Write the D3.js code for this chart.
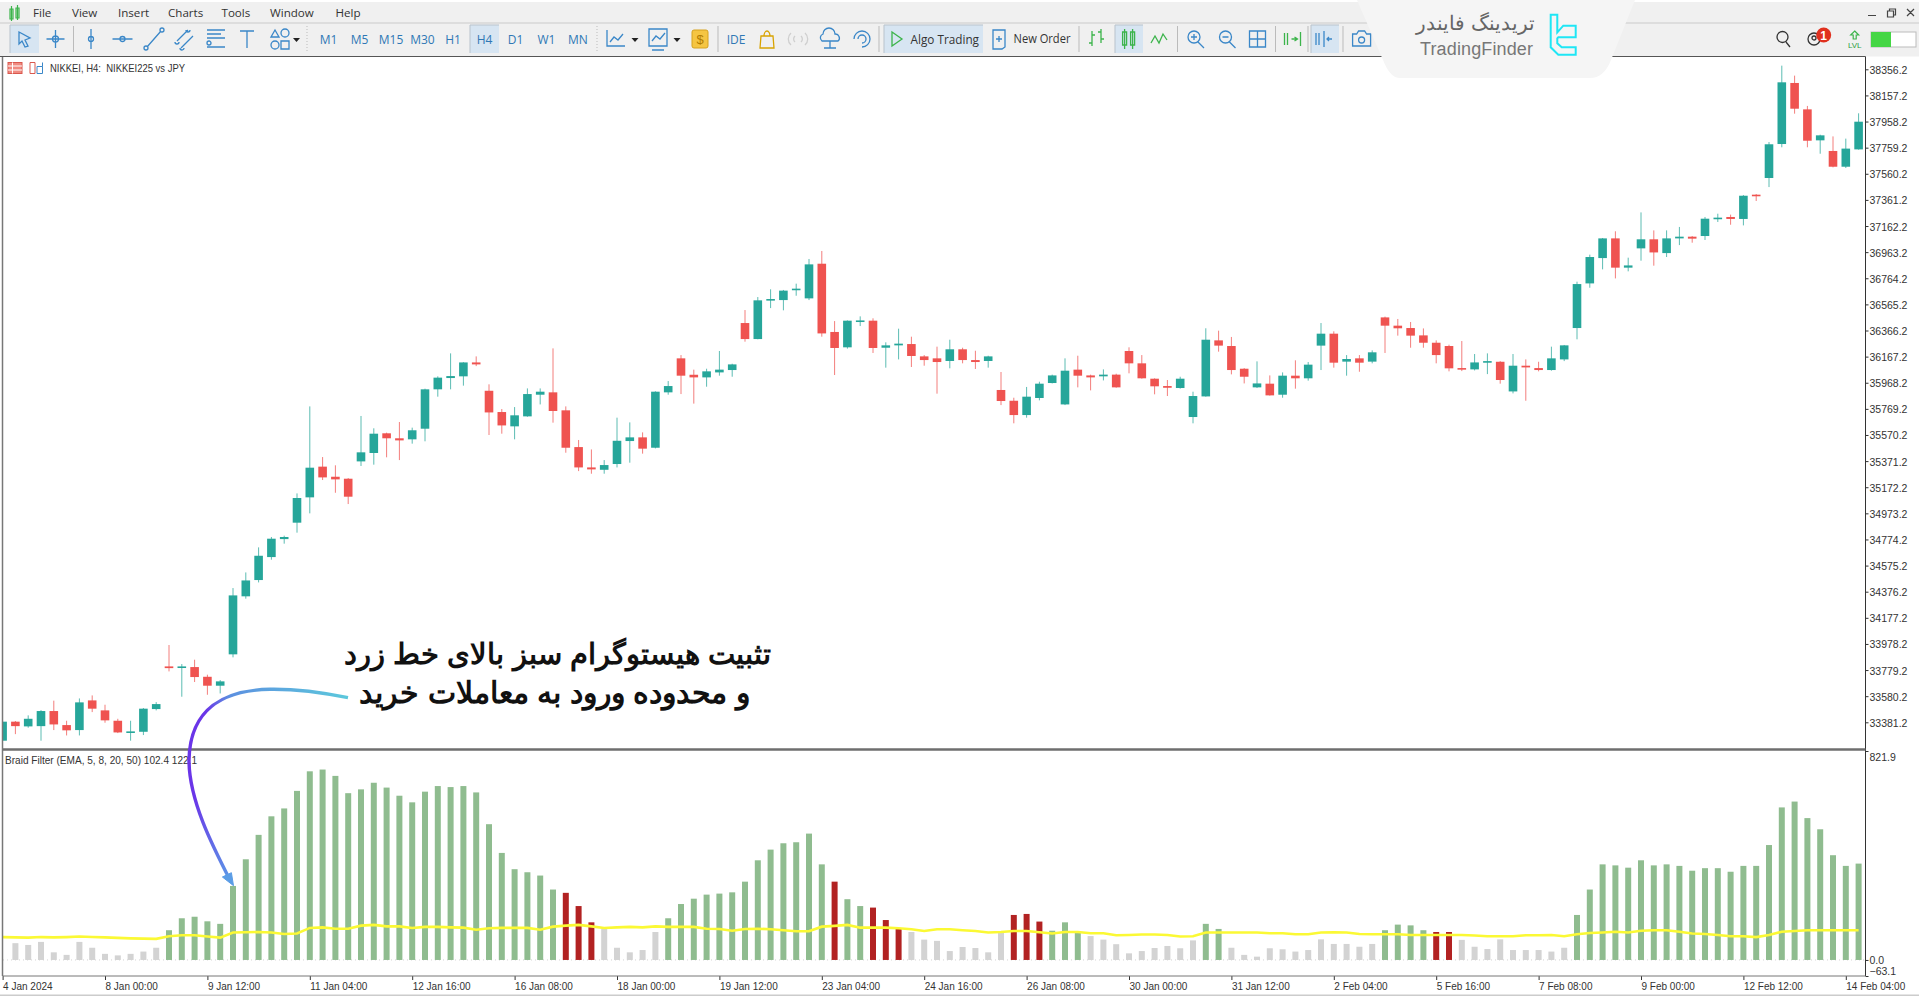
<!DOCTYPE html>
<html>
<head>
    <meta charset="utf-8">
    <title>NIKKEI H4 Braid Filter</title>
    <script src="https://d3js.org/d3.v7.min.js"></script>
    <style>
        html, body { margin: 0; padding: 0; background: #fff; overflow: hidden; }
        svg { display: block; }
        text { font-family: "Liberation Sans", Arial, sans-serif; }
        .axis text { font-size: 10.5px; fill: #333; }
        .axis line, .axis path { stroke: #333; }
        .ui { font-family: "Open Sans", sans-serif; font-size: 12px; fill: #333; }
        .menu { font-size: 11.6px; }
        .tf { font-family: "Open Sans", sans-serif; font-size: 12px; fill: #2f78b5; text-anchor: middle; }
    </style>
</head>
<body>
<div id="chart"></div>
<script>
    // candles, one per H4 bar
    const open = [
        33241,33386,33350,33352,33467,33360,33322,33548,33472,33393,
        33304,33309,33482,33807,33797,33802,33728,33660,33899,34341,
        34465,34640,34777,34902,35095,35329,35252,35237,35369,35433,
        35583,35545,35537,35618,35918,36004,36017,36123,35907,35745,
        35636,35712,35877,35895,35758,35478,35323,35305,35349,35524,
        35552,35473,35895,36154,36029,36009,36047,36065,36423,36301,
        36598,36598,36675,36611,36875,36355,36238,36433,36441,36235,
        36253,36263,36169,36154,36134,36223,36141,36134,35913,35831,
        35722,35852,35966,35803,36068,36024,36017,36030,36210,36116,
        35999,35943,35928,35707,35864,36291,36248,36075,35933,35961,
        35877,36022,36002,36251,36342,36129,36154,36129,36466,36403,
        36385,36329,36273,36248,36080,36070,36126,36128,35902,36098,
        36080,36065,36146,36385,36725,36918,37068,36845,36992,37061,
        36956,37068,37081,37086,37216,37231,37216,37401,37528,37787,
        38252,38051,37815,37734,37614,37746];
    const high = [
        33386,33391,33434,33474,33546,33393,33563,33586,33515,33408,
        33393,33490,33535,33970,33825,33858,33744,33703,34404,34523,
        34714,34793,34803,35125,35788,35402,35339,35242,35715,35621,
        35588,35669,35626,35923,36017,36192,36125,36169,35956,35768,
        35783,35925,35925,36230,35788,35532,35460,35379,35702,35666,
        35590,35903,35981,36179,36068,36075,36210,36113,36522,36621,
        36680,36675,36723,36911,36972,36438,36443,36474,36459,36276,
        36380,36319,36179,36243,36296,36235,36212,36174,36050,35854,
        35936,35976,36030,36154,36174,36030,36070,36037,36238,36179,
        36002,35989,36014,35900,36383,36365,36317,36080,36131,36024,
        36047,36139,36126,36423,36360,36179,36179,36215,36472,36454,
        36431,36382,36291,36258,36286,36187,36192,36133,36187,36146,
        36128,36243,36256,36738,36944,37071,37122,36921,37266,37129,
        37129,37155,37086,37231,37256,37249,37398,37406,37802,38384,
        38308,38077,37858,37845,37828,38021];
    const low = [
        33241,33291,33340,33241,33322,33281,33281,33459,33378,33299,
        33241,33284,33472,33769,33576,33688,33591,33601,33876,34323,
        34447,34620,34742,34826,34973,35227,35130,35044,35334,35344,
        35400,35379,35504,35522,35862,35918,35946,36095,35570,35580,
        35537,35709,35803,35664,35435,35295,35275,35275,35323,35359,
        35428,35468,35877,35882,35809,35938,36022,36014,36281,36299,
        36537,36520,36631,36598,36319,36027,36228,36400,36195,36083,
        36146,36088,36098,35885,36078,36116,36073,36083,35798,35659,
        35702,35834,35963,35798,35933,35910,35986,35930,36040,35999,
        35880,35867,35923,35659,35862,36205,36032,35963,35928,35870,
        35854,35923,35984,36065,36083,36022,36052,36116,36195,36327,
        36235,36235,36116,36055,36057,36062,36034,35961,35887,35831,
        36055,36060,36133,36299,36692,36832,36763,36817,36898,36860,
        36926,37017,37035,37056,37193,37172,37167,37353,37459,37762,
        38018,37762,37713,37609,37604,37744];
    const close = [
        33386,33352,33408,33467,33365,33320,33533,33485,33396,33304,
        33312,33485,33520,33794,33807,33726,33660,33693,34348,34462,
        34650,34780,34793,35090,35321,35247,35232,35100,35438,35580,
        35545,35529,35606,35918,36007,36019,36123,36108,35742,35643,
        35720,35882,35900,35753,35473,35323,35308,35341,35526,35552,
        35466,35900,35943,36022,36009,36055,36068,36108,36301,36596,
        36606,36670,36685,36870,36344,36233,36441,36443,36233,36253,
        36266,36172,36141,36126,36223,36141,36126,36169,35829,35722,
        35862,35961,36024,36060,36022,36009,36030,35933,36116,36002,
        35941,35930,35999,35867,36296,36251,36065,36014,35963,35872,
        36022,36002,36106,36342,36121,36149,36121,36200,36403,36383,
        36327,36273,36179,36078,36070,36123,36133,35989,36098,36085,
        36065,36154,36253,36720,36926,37068,36845,36862,37061,36961,
        37068,37081,37066,37218,37226,37216,37393,37391,37785,38257,
        38056,37812,37853,37614,37752,37957];

    // Braid Filter histogram
    const histValues = [
        0,66,59,71,30,20,71,48,24,18,
        24,33,48,117,164,170,152,142,291,396,
        492,565,596,665,742,749,724,656,671,697,
        678,646,620,662,684,680,684,659,534,421,
        357,345,332,277,264,212,148,123,48,30,
        39,110,164,220,241,257,261,266,308,392,
        434,459,463,497,376,308,239,212,206,157,
        122,110,80,75,35,51,47,30,107,177,
        181,151,115,148,113,94,80,62,26,35,
        47,55,46,77,142,122,48,20,13,46,
        42,33,39,81,63,63,52,63,117,139,
        136,117,110,110,79,52,43,81,39,39,
        39,33,48,177,277,376,372,363,392,372,
        376,370,351,361,361,347,370,370,452,600,
        623,558,514,412,370,379];
    // 0 = neutral, 1 = up, 2 = down
    const histState = [
        0,0,0,0,0,0,0,0,0,0,
        0,0,0,1,1,1,1,1,1,1,
        1,1,1,1,1,1,1,1,1,1,
        1,1,1,1,1,1,1,1,1,1,
        1,1,1,1,2,2,2,0,0,0,
        0,0,1,1,1,1,1,1,1,1,
        1,1,1,1,1,2,1,1,2,2,
        2,0,0,0,0,0,0,0,0,2,
        2,2,1,1,1,0,0,0,0,0,
        0,0,0,0,1,1,0,0,0,0,
        0,0,0,0,0,0,0,0,1,1,
        1,1,2,2,0,0,0,0,0,0,
        0,0,0,1,1,1,1,1,1,1,
        1,1,1,1,1,1,1,1,1,1,
        1,1,1,1,1,1];
    const signalLine = [
        90,89,88,90,89,90,92,90,89,87,
        85,84,83,93,97,97,92,88,108,109,
        110,108,102,104,126,128,123,123,135,138,
        132,132,126,130,130,128,127,119,125,126,
        126,126,119,131,135,138,132,126,128,130,
        128,132,130,130,130,123,122,115,122,123,
        121,117,113,113,131,134,138,127,127,127,
        125,121,114,121,121,117,114,108,110,114,
        114,109,104,110,110,105,105,97,98,100,
        100,98,92,93,108,108,108,108,108,105,
        105,101,101,108,109,108,102,101,101,101,
        98,98,98,98,98,96,93,93,93,97,
        97,98,93,101,106,108,111,108,115,117,
        117,111,104,102,98,93,93,90,98,111,
        114,117,117,117,117,117];

    const priceTicks = [38356.2,38157.2,37958.2,37759.2,37560.2,37361.2,37162.2,36963.2,36764.2,36565.2,
        36366.2,36167.2,35968.2,35769.2,35570.2,35371.2,35172.2,34973.2,34774.2,34575.2,34376.2,34177.2,
        33978.2,33779.2,33580.2,33381.2];
    const histTicks = [821.9, 0, -63.1];
    const timeTickBars = d3.range(0, 146, 8);
    const timeLabels = ["4 Jan 2024","8 Jan 00:00","9 Jan 12:00","11 Jan 04:00","12 Jan 16:00","16 Jan 08:00",
        "18 Jan 00:00","19 Jan 12:00","23 Jan 04:00","24 Jan 16:00","26 Jan 08:00","30 Jan 00:00","31 Jan 12:00",
        "2 Feb 04:00","5 Feb 16:00","7 Feb 08:00","9 Feb 00:00","12 Feb 12:00","14 Feb 04:00"];

    const menuLabels = ["File","View","Insert","Charts","Tools","Window","Help"];
    const menuX = [33,72,118,168,221.5,270,335.5];
    const timeframes = ["M1","M5","M15","M30","H1","H4","D1","W1","MN"];
    const timeframeX = [328.6,359.6,391,422.4,453,484.5,515.5,546.5,578];

    const width = 1919, height = 996;
    const left = 3, right = 1865.5, mainTop = 56.5, mainBottom = 748.5, subTop = 751, subBottom = 976;

    const svg = d3.select("#chart").append("svg").attr("width", width).attr("height", height);

    const x = d3.scaleLinear().domain([0, 145]).range([2.6, 1858.6]);
    const yPrice = d3.scaleLinear().domain([33381.2, 38356.2]).range([722.3, 69.3]);
    const yHist = d3.scaleLinear().domain([-63.1, 821.9]).range([subBottom, subTop]);

    const defs = svg.append("defs");
    defs.append("clipPath").attr("id", "clipMain").append("rect")
        .attr("x", left).attr("y", mainTop).attr("width", right - left).attr("height", mainBottom - mainTop);
    defs.append("clipPath").attr("id", "clipSub").append("rect")
        .attr("x", left).attr("y", subTop).attr("width", right - left).attr("height", subBottom - subTop);

    // ---- candles
    const upColor = "#26a69a", downColor = "#ef5350";
    const candles = svg.append("g").attr("clip-path", "url(#clipMain)")
        .selectAll("g").data(open.map((o, i) => i)).enter().append("g")
        .attr("fill", i => close[i] >= open[i] ? upColor : downColor)
        .attr("stroke", i => close[i] >= open[i] ? upColor : downColor);
    candles.append("line")
        .attr("x1", i => x(i)).attr("x2", i => x(i))
        .attr("y1", i => yPrice(high[i])).attr("y2", i => yPrice(low[i]))
        .attr("stroke-width", 1).attr("stroke-opacity", 0.75);
    candles.append("rect")
        .attr("stroke", "none")
        .attr("x", i => x(i) - 4.3).attr("width", 8.6)
        .attr("y", i => yPrice(Math.max(open[i], close[i])))
        .attr("height", i => Math.max(1.6, Math.abs(yPrice(open[i]) - yPrice(close[i]))));

    // ---- histogram
    const histColors = ["#d3d3d3", "#8fbc8f", "#b22222"];
    const sub = svg.append("g").attr("clip-path", "url(#clipSub)");
    sub.append("line").attr("x1", left).attr("x2", right).attr("y1", yHist(0)).attr("y2", yHist(0))
        .attr("stroke", "#d3d3d3").attr("stroke-dasharray", "1,3");
    sub.selectAll("rect").data(histValues).enter().append("rect")
        .attr("x", (d, i) => x(i) - 3).attr("width", 6)
        .attr("y", d => yHist(d)).attr("height", d => yHist(0) - yHist(d))
        .attr("fill", (d, i) => histColors[histState[i]]);
    sub.append("path").datum(signalLine)
        .attr("fill", "none").attr("stroke", "#fbf934").attr("stroke-width", 2.6)
        .attr("d", d3.line().x((d, i) => x(i)).y(d => yHist(d)));

    // ---- axes
    const priceAxis = svg.append("g").attr("class", "axis").attr("transform", `translate(${right},0)`)
        .call(d3.axisRight(yPrice).tickValues(priceTicks).tickFormat(d3.format(".1f")).tickSize(3).tickPadding(1));
    priceAxis.select(".domain").remove();
    priceAxis.selectAll(".tick text").attr("dy", "0.38em");

    const histAxis = svg.append("g").attr("class", "axis").attr("transform", `translate(${right},0)`)
        .call(d3.axisRight(yHist).tickValues(histTicks).tickFormat(d3.format(".1f")).tickSize(3).tickPadding(1));
    histAxis.select(".domain").remove();
    // outermost labels are pushed inside the panel, as the terminal does it
    histAxis.selectAll(".tick text").attr("dy", d => d === 821.9 ? "0.95em" : d === -63.1 ? "-0.1em" : "0.38em");

    const timeAxis = svg.append("g").attr("class", "axis").attr("transform", `translate(0,${subBottom})`)
        .call(d3.axisBottom(x).tickValues(timeTickBars).tickFormat((d, i) => timeLabels[i]).tickSize(4).tickPadding(1));
    timeAxis.select(".domain").remove();
    timeAxis.selectAll(".tick text").attr("text-anchor", "start").attr("dy", "0.9em").style("font-size", "10px");

    // frames
    const frame = svg.append("g").attr("fill", "none");
    frame.append("path").attr("d", `M${left - 0.5},${mainTop}V${subBottom}`).attr("stroke", "#777").attr("stroke-width", 1.5);
    frame.append("path").attr("d", `M${right},${mainTop}V${subBottom}`).attr("stroke", "#333");
    frame.append("path").attr("d", `M0,${mainTop}H${right}`).attr("stroke", "#555").attr("stroke-width", 1.2);
    frame.append("path").attr("d", `M${left},749.5H${right}`).attr("stroke", "#6e6e6e").attr("stroke-width", 2.6);
    frame.append("path").attr("d", `M${left},${subBottom}H${right}`).attr("stroke", "#777");
    frame.append("path").attr("d", "M0,995.3H1919").attr("stroke", "#ccc").attr("stroke-width", 1.4);

    svg.append("text").attr("x", 50).attr("y", 71.5).attr("font-size", 10.5).attr("fill", "#333")
        .attr("textLength", 135).attr("lengthAdjust", "spacingAndGlyphs")
        .attr("xml:space", "preserve").text("NIKKEI, H4:  NIKKEI225 vs JPY");
    svg.append("text").attr("x", 5).attr("y", 764).attr("font-size", 10.5).attr("fill", "#333")
        .attr("textLength", 192).attr("lengthAdjust", "spacingAndGlyphs")
        .text("Braid Filter (EMA, 5, 8, 20, 50) 102.4 122.1");

    // small chart-window icons next to the title
    const titleIcons = svg.append("g");
    titleIcons.append("rect").attr("x", 8).attr("y", 62.5).attr("width", 14).attr("height", 11).attr("fill", "#f08a80").attr("stroke", "#d9584e");
    titleIcons.append("path").attr("d", "M8,66h14M8,70h14M12.5,62.5v11").attr("stroke", "#fff").attr("fill", "none");
    titleIcons.append("path").attr("d", "M30,62.5h5v11h-5z").attr("fill", "#fff").attr("stroke", "#d9584e");
    titleIcons.append("path").attr("d", "M37,66.5h5.5v7h-5.5zM42.5,62.5v4").attr("fill", "#fff").attr("stroke", "#3a87c8");

    // ---- terminal chrome
    const chrome = svg.insert("g", ":first-child");
    chrome.append("rect").attr("width", width).attr("height", mainTop).attr("fill", "#f0f0f0");
    chrome.append("rect").attr("width", width).attr("height", 2).attr("fill", "#fff");
    chrome.append("line").attr("x1", 0).attr("x2", width).attr("y1", 23).attr("y2", 23).attr("stroke", "#c9c9c9").attr("stroke-width", 1.2);

    chrome.selectAll("text.menu").data(menuLabels).enter().append("text")
        .attr("class", "ui menu").attr("x", (d, i) => menuX[i]).attr("y", 17).text(d => d);

    // selected toolbar buttons
    const selected = [[10, 29], [470, 29], [884, 99], [1115, 28], [1311, 28]];
    chrome.selectAll("rect.sel").data(selected).enter().append("rect")
        .attr("class", "sel").attr("x", d => d[0]).attr("y", 25).attr("width", d => d[1]).attr("height", 28).attr("fill", "#d7e5f2");
    chrome.selectAll("path.selEdge").data(selected).enter().append("path").attr("class", "selEdge")
        .attr("d", d => `M${d[0]},53V25H${d[0] + d[1]}`).attr("fill", "none").attr("stroke", "#b9c3cc");

    chrome.selectAll("text.tf").data(timeframes).enter().append("text")
        .attr("class", "tf").attr("x", (d, i) => timeframeX[i]).attr("y", 44).text(d => d);

    chrome.selectAll("line.sep").data([73.5, 718, 879, 1079, 1177.5, 1275.5, 1308, 1343]).enter().append("line")
        .attr("class", "sep").attr("x1", d => d).attr("x2", d => d).attr("y1", 26).attr("y2", 52).attr("stroke", "#bbb");
    chrome.selectAll("line.dot").data([307, 597]).enter().append("line")
        .attr("class", "dot").attr("x1", d => d).attr("x2", d => d).attr("y1", 26).attr("y2", 52).attr("stroke", "#bbb").attr("stroke-dasharray", "1,2");

    // toolbar icons: [x, path, colour]
    const blue = "#3a87c8", green = "#3cb44b";
    const iconPaths = [
        [24, "M-5,-7L6,-1L1,1L4,7L1,8L-2,2L-5,5Z", blue],
        [55.5, "M0,-9V9M-9,0H9M-3,0a3,3 0 1,0 6,0a3,3 0 1,0 -6,0", blue],
        [91, "M0,-10V10M-2.5,0a2.5,2.5 0 1,0 5,0a2.5,2.5 0 1,0 -5,0", blue],
        [122.5, "M-10,0H10M-2.5,0a2.5,2.5 0 1,0 5,0a2.5,2.5 0 1,0 -5,0", blue],
        [154, "M-7,8L7,-8M-10,9a2,2 0 1,0 4,0a2,2 0 1,0 -4,0M6,-9a2,2 0 1,0 4,0a2,2 0 1,0 -4,0", blue],
        [185, "M-8,2L3,-9M-4,9L8,-3M-10,3a2,2 0 1,0 4,0M1,-9a2,2 0 1,0 4,0M-5,9a2,2 0 1,0 4,0", blue],
        [216, "M-9,-9H9M-9,-1H9M-9,8H9M-9,-5H5M-5,4a2,2 0 1,0 -4,0a2,2 0 1,0 4,0", blue],
        [247, "M-7,-8H7M0,-8V9", blue],
        [279, "M-8,-2L-4,-9L0,-2ZM2,-6a4,4 0 1,0 8,0a4,4 0 1,0 -8,0M-8,6a4,4 0 1,0 8,0a4,4 0 1,0 -8,0M2,2h8v8h-8z", blue],
        [616, "M-9,-9V7H9M-6,3L-2,-2L2,1L7,-5", blue],
        [658, "M-9,-10H9V7H-9ZM-6,2L-2,-3L2,0L7,-6M-6,11H6", blue],
        [767, "M-6,-3H6L7,9H-7ZM-3,-3a3,5 0 0,1 6,0", "#d8a300"],
        [798, "M-3,-3a4,4 0 0,0 0,6M3,-3a4,4 0 0,1 0,6M-7,-6a8,8 0 0,0 0,12M7,-6a8,8 0 0,1 0,12", "#cfcfcf"],
        [830, "M-8,2a4,4 0 0,1 1,-7a6,6 0 0,1 12,0a4,4 0 0,1 3,7ZM0,2V9M-6,9H6", blue],
        [862, "M-8,0a8,8 0 1,1 8,8M-4,0a4,4 0 1,1 4,4", blue],
        [896, "M-4,-7L6,0L-4,7Z", green],
        [999, "M-6,-9H6V8L3,10H-6ZM0,-3V3M-3,0H3", blue],
        [1097, "M-5,-8V7M-8,4h3M-5,-4h3M4,-10V4M1,-7h3M4,0h3", green],
        [1128.6, "M-4,-10V10M4,-10V10M-6,-7h4V6h-4ZM2,-7h4V6h-4Z", green],
        [1159, "M-8,4L-4,-3L0,4L4,-5L8,1", green],
        [1195, "M-7,-2a6,6 0 1,0 12,0a6,6 0 1,0 -12,0M3,3L9,9M-4,-2H2M-1,-5V1", blue],
        [1226.5, "M-7,-2a6,6 0 1,0 12,0a6,6 0 1,0 -12,0M3,3L9,9M-4,-2H2", blue],
        [1257.5, "M-8,-8H8V8H-8ZM0,-8V8M-8,0H8", blue],
        [1293.5, "M-9,-6V6M-6,-6V6M-2,0H3M1,-2L4,0L1,2M7,-7V7", green],
        [1325, "M-9,-6V6M-6,-6V6M-1,-8V8M7,0H2M4,-2L2,0L4,2", blue],
        [1361.6, "M-9,-5H-5L-3,-8H3L5,-5H9V7H-9ZM-3,1a3,3 0 1,0 6,0a3,3 0 1,0 -6,0", blue],
        [1784, "M-7,-2a5.5,5.5 0 1,0 11,0a5.5,5.5 0 1,0 -11,0M2,3L6,8", "#333"],
        [1814, "M-6,0a6,6 0 1,0 12,0a6,6 0 1,0 -12,0M-2,-1a2,2 0 1,0 4,0a2,2 0 1,0 -4,0", "#333"]
    ];
    chrome.selectAll("path.ic").data(iconPaths).enter().append("path")
        .attr("class", "ic").attr("transform", d => `translate(${d[0]},39)`).attr("d", d => d[1])
        .attr("fill", "none").attr("stroke", d => d[2]).attr("stroke-width", 1.3);

    // app icon + little arrows
    chrome.append("path").attr("d", "M10,9h3v10h-3zM16,8h3v10h-3zM11.5,6v15M17.5,5v15").attr("fill", "none").attr("stroke", "#3cb44b").attr("stroke-width", 1.2);
    chrome.selectAll("path.drop").data([296.5, 635, 677]).enter().append("path").attr("class", "drop")
        .attr("d", d => `M${d - 3.5},38h7l-3.5,4z`).attr("fill", "#222");

    // $ button, IDE, labels
    chrome.append("rect").attr("x", 692).attr("y", 30).attr("width", 16).attr("height", 18).attr("rx", 2).attr("fill", "#f5c542").attr("stroke", "#d6a21e");
    chrome.append("text").attr("x", 700).attr("y", 44).attr("text-anchor", "middle").attr("font-size", 13).attr("fill", "#b27c00").text("$");
    chrome.append("text").attr("x", 736).attr("y", 44).attr("text-anchor", "middle").attr("class", "tf").text("IDE");
    chrome.append("text").attr("class", "ui").attr("x", 910.5).attr("y", 44).attr("textLength", 68.5).attr("lengthAdjust", "spacingAndGlyphs").text("Algo Trading");
    chrome.append("text").attr("class", "ui").attr("x", 1013.5).attr("y", 43).attr("textLength", 57).attr("lengthAdjust", "spacingAndGlyphs").text("New Order");

    // right corner
    chrome.append("circle").attr("cx", 1823.7).attr("cy", 35).attr("r", 7.5).attr("fill", "#e0301e");
    chrome.append("text").attr("x", 1823.7).attr("y", 39.5).attr("text-anchor", "middle").attr("font-size", 12).attr("font-weight", "bold").attr("fill", "#fff").text("1");
    chrome.append("path").attr("d", "M1854.7,31l4,4h-2.5v4h-3v-4h-2.5z").attr("fill", "none").attr("stroke", "#3cb44b").attr("stroke-width", 1.2);
    chrome.append("text").attr("x", 1854.7).attr("y", 48).attr("text-anchor", "middle").attr("font-size", 8).attr("fill", "#2e9e3f").text("LVL");
    chrome.append("rect").attr("x", 1871).attr("y", 32).attr("width", 45).attr("height", 15).attr("fill", "#fff").attr("stroke", "#bbb");
    chrome.append("rect").attr("x", 1871).attr("y", 32).attr("width", 20).attr("height", 15).attr("fill", "#45d645");
    chrome.append("path").attr("d", "M1868,15.5h8M1887.5,11h6v6h-6zM1889.5,11v-2h6v6h-2M1907,9l7,7M1914,9l-7,7").attr("fill", "none").attr("stroke", "#444").attr("stroke-width", 1.2);

    // ---- watermark plate
    const mark = svg.append("g");
    mark.append("path").attr("d", "M1357,0H1635L1611,60Q1604,78 1590,78H1400Q1390,78 1383,60Z").attr("fill", "#f5f5f5");
    mark.append("text").attr("x", 1535).attr("y", 30).attr("text-anchor", "end").attr("font-family", "DejaVu Sans").attr("font-size", 20).attr("fill", "#666").text("تریدینگ فایندر");
    mark.append("text").attr("x", 1420).attr("y", 55).attr("font-family", "Open Sans").attr("font-weight", 300).attr("font-size", 18).attr("fill", "#777")
        .attr("textLength", 113).text("TradingFinder");
    mark.append("path").attr("d", "M1550.7,14.7H1557.3V32.3L1563.3,25.7H1575.7V37.3H1558.3L1557.3,38.3V43.3L1561.7,47.3H1575.7V54.7H1558.3L1550.7,47.3Z")
        .attr("fill", "none").attr("stroke", "#1fe6f5").attr("stroke-width", 2);

    // ---- annotation
    const note = svg.append("g");
    const noteGrad = defs.append("linearGradient").attr("id", "noteTop").attr("gradientUnits", "userSpaceOnUse")
        .attr("x1", 348).attr("y1", 697).attr("x2", 190).attr("y2", 740);
    noteGrad.append("stop").attr("offset", 0).attr("stop-color", "#5cc8dc");
    noteGrad.append("stop").attr("offset", 0.7).attr("stop-color", "#5c8fe0");
    noteGrad.append("stop").attr("offset", 0.86).attr("stop-color", "#6a35e8");
    const noteGrad2 = defs.append("linearGradient").attr("id", "noteBottom").attr("gradientUnits", "userSpaceOnUse")
        .attr("x1", 190).attr("y1", 800).attr("x2", 232).attr("y2", 885);
    noteGrad2.append("stop").attr("offset", 0).attr("stop-color", "#6a35e8");
    noteGrad2.append("stop").attr("offset", 1).attr("stop-color", "#5b9de6");

    note.append("path").attr("d", "M348,697.7C315,691 290,689 270,689.3C225,690 190,708 189,760")
        .attr("fill", "none").attr("stroke", "url(#noteTop)").attr("stroke-width", 3.4);
    note.append("path").attr("d", "M189,760C189,800 212,845 231,882")
        .attr("fill", "none").attr("stroke", "url(#noteBottom)").attr("stroke-width", 3.4);
    note.append("path").attr("d", "M222.4,877L231.4,872.7L233.5,885.7Z").attr("fill", "#5b9de6").attr("stroke", "#5b9de6");

    note.append("text").attr("x", 557.5).attr("y", 664).attr("text-anchor", "middle").attr("font-family", "DejaVu Sans")
        .attr("font-weight", "bold").attr("font-size", 29.4).attr("fill", "#111").text("تثبیت هیستوگرام سبز بالای خط زرد");
    note.append("text").attr("x", 554.5).attr("y", 702.5).attr("text-anchor", "middle").attr("font-family", "DejaVu Sans")
        .attr("font-weight", "bold").attr("font-size", 30.4).attr("fill", "#111").text("و محدوده ورود به معاملات خرید");
</script>
</body>
</html>
